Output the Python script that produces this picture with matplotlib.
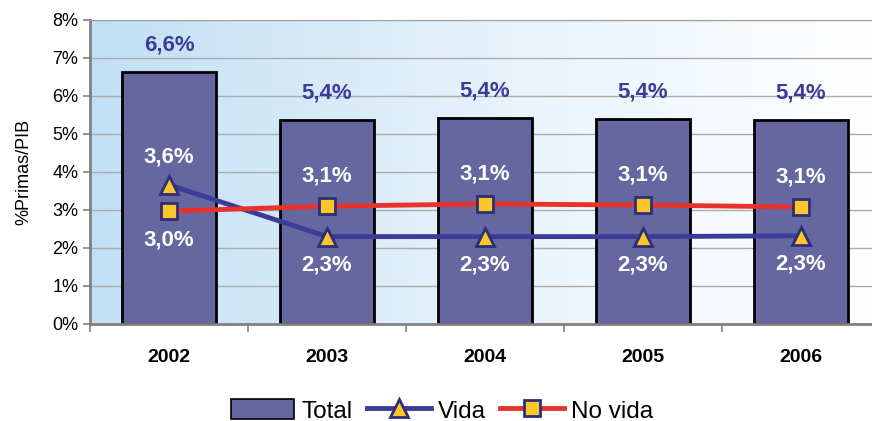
import numpy as np
import matplotlib.pyplot as plt
from matplotlib.colors import LinearSegmentedColormap
from matplotlib.ticker import FuncFormatter

plt.rcParams['font.family'] = ['Liberation Sans', 'DejaVu Sans']

years = ['2002', '2003', '2004', '2005', '2006']
total = [6.63, 5.38, 5.42, 5.40, 5.38]
vida = [3.66, 2.30, 2.30, 2.30, 2.32]
no_vida = [2.97, 3.10, 3.16, 3.13, 3.08]
total_lbl = ['6,6%', '5,4%', '5,4%', '5,4%', '5,4%']
vida_lbl = ['3,6%', '2,3%', '2,3%', '2,3%', '2,3%']
no_vida_lbl = ['3,0%', '3,1%', '3,1%', '3,1%', '3,1%']

bar_col = '#6667a0'
blue = '#3b3c98'
red = '#e8322e'
yellow = '#fcc72a'

fig = plt.figure(figsize=(8.72, 4.21), dpi=100)
ax = fig.add_axes([90/872, 97/421, 782/872, 304/421])

x = np.arange(len(years))
ax.set_xlim(-0.5, 4.45)
ax.set_ylim(0, 8)

# background gradient light blue -> white
cmap = LinearSegmentedColormap.from_list('bg', ['#c1dff4', '#e6f2fb', '#ffffff'])
grad = np.linspace(0, 1, 256).reshape(1, -1)
ax.imshow(grad, cmap=cmap, aspect='auto', extent=[-0.5, 4.45, 0, 8], zorder=0)

for yv in range(1, 9):
    ax.axhline(yv, color='#ababab', lw=1.0, zorder=1)

ax.bar(x, total, width=0.59, color=bar_col, edgecolor='black', lw=2, zorder=2)
ax.plot(x, vida, color=blue, lw=3.5, marker='^', ms=13, mfc=yellow, mec='#2e2e78', mew=2, zorder=3)
ax.plot(x, no_vida, color=red, lw=3.5, marker='s', ms=12, mfc=yellow, mec='#2e2e78', mew=2, zorder=4)

lbl = dict(ha='center', va='center', fontsize=16, fontweight='bold')
for i in x:
    ax.text(i, total[i] + 0.71, total_lbl[i], color=blue, **lbl)
    if vida[i] > no_vida[i]:
        ax.text(i, vida[i] + 0.74, vida_lbl[i], color='white', **lbl)
        ax.text(i, no_vida[i] - 0.76, no_vida_lbl[i], color='white', **lbl)
    else:
        ax.text(i, no_vida[i] + 0.8, no_vida_lbl[i], color='white', **lbl)
        ax.text(i, vida[i] - 0.74, vida_lbl[i], color='white', **lbl)

ax.set_xticks(x)
ax.set_xticklabels(years, fontsize=14, fontweight='bold')
ax.tick_params(axis='x', length=0, pad=18)
ax.set_xticks(np.arange(-0.5, 4.5, 1), minor=True)
ax.tick_params(axis='x', which='minor', length=6, color='#808080', width=1.2)
ax.set_yticks(range(0, 9))
ax.yaxis.set_major_formatter(FuncFormatter(lambda v, p: '%d%%' % v))
ax.tick_params(axis='y', labelsize=13, length=5, color='#808080', width=1.2)
ax.set_ylabel('%Primas/PIB', fontsize=13, labelpad=14)

ax.spines['right'].set_visible(False)
ax.spines['top'].set_color('#a0a0a0')
ax.spines['left'].set_color('#808080')
ax.spines['left'].set_linewidth(2)
ax.spines['bottom'].set_color('#808080')
ax.spines['bottom'].set_linewidth(2)

h1 = plt.Rectangle((0, 0), 1, 1, fc=bar_col, ec='black', lw=1.2)
h2, = ax.plot([], [], color=blue, lw=3.5, marker='^', ms=13, mfc=yellow, mec='#2e2e78', mew=2)
h3, = ax.plot([], [], color=red, lw=3.5, marker='s', ms=12, mfc=yellow, mec='#2e2e78', mew=2)
fig.legend([h1, h2, h3], ['Total', 'Vida', 'No vida'], loc='center', bbox_to_anchor=(0.507, 0.024),
           ncol=3, frameon=False, fontsize=17.5, handlelength=2.6, handleheight=0.9,
           handletextpad=0.3, columnspacing=0.6)

fig.savefig('out.png', dpi=100)
